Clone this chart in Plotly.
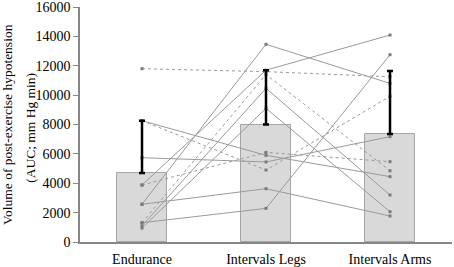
import plotly.graph_objects as go

categories = ["Endurance", "Intervals Legs", "Intervals Arms"]
mean_values = [4700, 8000, 7350]
sd_values = [3550, 3700, 4300]

# individual subjects: (endurance, legs, arms), dotted flag
endurance_vals = [11800, 8260, 8260, 5740, 3880, 3880, 2570, 2570, 1310, 1310, 1100, 950]
legs_vals      = [11600, 5900, 4900, 5450, 6100, 11700, 3630, 13460, 2290, 11400, 10460, 9100]
arms_vals      = [11250, 4450, 9920, 7170, 5470, 14090, 1770, 10800, 12750, 4850, 3200, 2060]
dotted_flags   = [True, False, True, False, True, False, False, False, False, True, False, False]

SERIF = "Liberation Serif, Times New Roman, serif"

fig = go.Figure()

fig.add_trace(go.Bar(
    x=categories, y=mean_values, width=0.4,
    marker=dict(color="#d9d9d9", line=dict(color="#a6a6a6", width=1)),
    showlegend=False,
))

for e, l, a, d in zip(endurance_vals, legs_vals, arms_vals, dotted_flags):
    fig.add_trace(go.Scatter(
        x=categories, y=[e, l, a], mode="lines+markers",
        line=dict(color="#9a9a9a", width=1, dash="dot" if d else "solid"),
        marker=dict(symbol="square", size=3, color="#7a7a7a"),
        showlegend=False,
    ))

fig.add_trace(go.Scatter(
    x=categories, y=mean_values, mode="markers",
    marker=dict(size=1, color="rgba(0,0,0,0)"),
    error_y=dict(type="data", array=sd_values, arrayminus=[0, 0, 0], symmetric=False,
                 color="#000000", thickness=2.5, width=3),
    showlegend=False,
))

fig.update_layout(
    width=454, height=267,
    margin=dict(l=80, r=2, t=7, b=25),
    plot_bgcolor="white", paper_bgcolor="white",
    font=dict(family=SERIF, size=14, color="#000000"),
    bargap=0,
    xaxis=dict(
        showline=True, linecolor="#868686", linewidth=1.5,
        ticks="", showgrid=False, zeroline=False, automargin=False,
        ticklabelstandoff=3,
        tickfont=dict(family=SERIF, size=14, color="#000000"),
    ),
    yaxis=dict(
        range=[0, 16000], tickvals=[0, 2000, 4000, 6000, 8000, 10000, 12000, 14000, 16000],
        ticktext=["0", "2000", "4000", "6000", "8000", "10000", "12000", "14000", "16000"],
        showline=True, linecolor="#868686", linewidth=1.5,
        ticks="outside", ticklen=5, tickcolor="#868686",
        showgrid=False, zeroline=False, automargin=False,
        ticklabeloverflow="allow",
        tickfont=dict(family=SERIF, size=14, color="#000000"),
    ),
    annotations=[
        dict(text="Volume of post-exercise hypotension", textangle=-90,
             xref="paper", yref="paper", x=-0.195, y=0.50,
             xanchor="center", yanchor="middle", showarrow=False,
             font=dict(family=SERIF, size=13.5)),
        dict(text="(AUC; mm Hg min)", textangle=-90,
             xref="paper", yref="paper", x=-0.135, y=0.485,
             xanchor="center", yanchor="middle", showarrow=False,
             font=dict(family=SERIF, size=13.5)),
    ],
)

fig.write_html("out.html", config={"displayModeBar": False},
               post_script="document.body.style.margin='0';document.body.style.padding='0';")
